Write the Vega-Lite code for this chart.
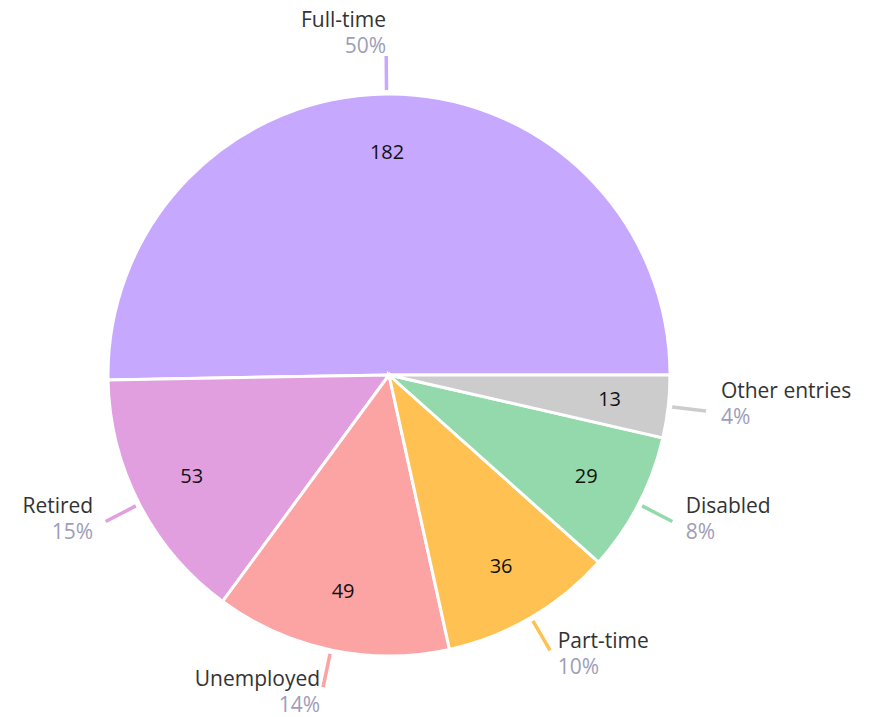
{
  "$schema": "https://vega.github.io/schema/vega-lite/v6.json",
  "width": 778,
  "height": 684,
  "autosize": {"type": "none"},
  "padding": {"left": 0, "top": 33, "right": 99, "bottom": 0},
  "background": "white",
  "config": {"view": {"stroke": null}, "font": "Open Sans"},
  "data": {
    "values": [
      {"status": "Full-time", "count": 182, "pct": "50%"},
      {"status": "Retired", "count": 53, "pct": "15%"},
      {"status": "Unemployed", "count": 49, "pct": "14%"},
      {"status": "Part-time", "count": 36, "pct": "10%"},
      {"status": "Disabled", "count": 29, "pct": "8%"},
      {"status": "Other entries", "count": 13, "pct": "4%"}
    ]
  },
  "transform": [
    {"window": [{"op": "sum", "field": "count", "as": "cum"}], "sort": [{"field": "count", "order": "ascending"}], "frame": [null, 0]},
    {"calculate": "datum.cum - datum.count / 2", "as": "mid"},
    {"calculate": "sin(datum.mid / 362 * 2 * PI + PI / 2) < -0.001 ? 'left' : 'right'", "as": "side"}
  ],
  "encoding": {
    "color": {
      "field": "status",
      "type": "nominal",
      "legend": null,
      "scale": {
        "domain": ["Full-time", "Retired", "Unemployed", "Part-time", "Disabled", "Other entries"],
        "range": ["#c6a8fe", "#e29fe0", "#fca3a3", "#ffc152", "#93d9ab", "#cccccc"]
      }
    }
  },
  "layer": [
    {
      "mark": {"type": "arc", "outerRadius": 281, "stroke": "white", "strokeWidth": 3},
      "encoding": {
        "theta": {"field": "count", "type": "quantitative", "stack": true, "scale": {"range": [1.5707963, 7.8539816]}},
        "order": {"field": "count", "type": "quantitative", "sort": "ascending"}
      }
    },
    {
      "mark": {"type": "arc", "filled": false, "outerRadius": 319, "innerRadius": 285, "strokeWidth": 3.5},
      "encoding": {
        "theta": {"field": "mid", "type": "quantitative", "stack": null},
        "theta2": {"field": "mid"}
      }
    },
    {
      "mark": {"type": "text", "radius": 222, "fontSize": 20, "align": "center", "baseline": "middle"},
      "encoding": {
        "theta": {"field": "mid", "type": "quantitative", "stack": null},
        "text": {"field": "count", "type": "quantitative"},
        "color": {"value": "#111111"}
      }
    },
    {
      "transform": [{"filter": "datum.side == 'right'"}],
      "mark": {"type": "text", "radius": 334, "fontSize": 21, "align": "left", "baseline": "middle", "dy": -21},
      "encoding": {
        "theta": {"field": "mid", "type": "quantitative", "stack": null},
        "text": {"field": "status"},
        "color": {"value": "#333333"}
      }
    },
    {
      "transform": [{"filter": "datum.side == 'right'"}],
      "mark": {"type": "text", "radius": 334, "fontSize": 21, "align": "left", "baseline": "middle", "dy": 5},
      "encoding": {
        "theta": {"field": "mid", "type": "quantitative", "stack": null},
        "text": {"field": "pct"},
        "color": {"value": "#9e9db8"}
      }
    },
    {
      "transform": [{"filter": "datum.side == 'left'"}],
      "mark": {"type": "text", "radius": 333, "fontSize": 21, "align": "right", "baseline": "middle", "dy": -21},
      "encoding": {
        "theta": {"field": "mid", "type": "quantitative", "stack": null},
        "text": {"field": "status"},
        "color": {"value": "#333333"}
      }
    },
    {
      "transform": [{"filter": "datum.side == 'left'"}],
      "mark": {"type": "text", "radius": 333, "fontSize": 21, "align": "right", "baseline": "middle", "dy": 5},
      "encoding": {
        "theta": {"field": "mid", "type": "quantitative", "stack": null},
        "text": {"field": "pct"},
        "color": {"value": "#9e9db8"}
      }
    }
  ]
}
